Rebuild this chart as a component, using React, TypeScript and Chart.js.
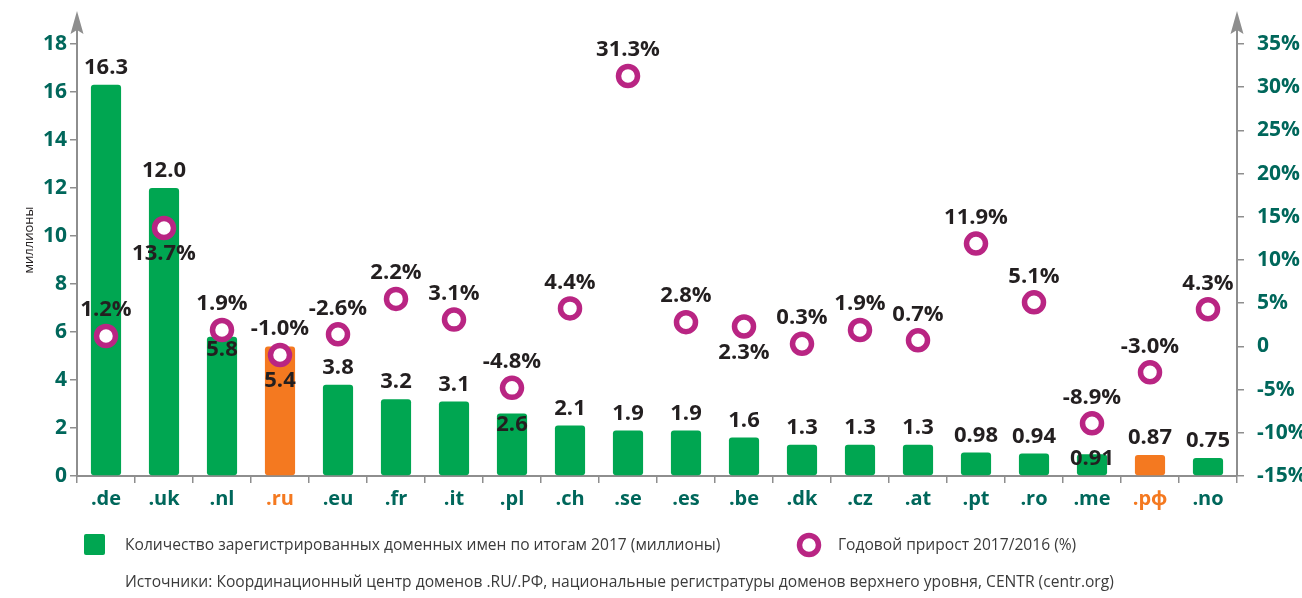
import React, { useEffect, useRef } from 'react';
import { Chart, registerables } from 'chart.js';

Chart.register(...registerables);

// ---- data ----
const domains = ['.de', '.uk', '.nl', '.ru', '.eu', '.fr', '.it', '.pl', '.ch', '.se', '.es', '.be', '.dk', '.cz', '.at', '.pt', '.ro', '.me', '.рф', '.no'];
const domainCounts = [16.3, 12.0, 5.8, 5.4, 3.8, 3.2, 3.1, 2.6, 2.1, 1.9, 1.9, 1.6, 1.3, 1.3, 1.3, 0.98, 0.94, 0.91, 0.87, 0.75];
const countLabels = ['16.3', '12.0', '5.8', '5.4', '3.8', '3.2', '3.1', '2.6', '2.1', '1.9', '1.9', '1.6', '1.3', '1.3', '1.3', '0.98', '0.94', '0.91', '0.87', '0.75'];
// growth markers as plotted in the picture (%)
const growthPct = [1.2, 13.7, 1.9, -1.0, 1.4, 5.5, 3.1, -4.8, 4.4, 31.3, 2.8, 2.3, 0.3, 1.9, 0.7, 11.9, 5.1, -8.9, -3.0, 4.3];
const growthLabels = ['1.2%', '13.7%', '1.9%', '-1.0%', '-2.6%', '2.2%', '3.1%', '-4.8%', '4.4%', '31.3%', '2.8%', '2.3%', '0.3%', '1.9%', '0.7%', '11.9%', '5.1%', '-8.9%', '-3.0%', '4.3%'];
const highlighted = ['.ru', '.рф'];
const countTicks = [0, 2, 4, 6, 8, 10, 12, 14, 16, 18];
const pctTicks = [-15, -10, -5, 0, 5, 10, 15, 20, 25, 30, 35];

// ---- label styling (not data) ----
const barLabelInside: Record<string, number> = { '.nl': 13, '.ru': 34, '.pl': 11, '.me': 5 };
const pctLabelBelow = ['.uk', '.be'];

const GREEN = '#00a651';
const ORANGE = '#f47920';
const MAGENTA = '#b92583';
const TEAL = '#00675b';
const AXIS = '#8e8e8e';
const LABEL = '#231f20';
const FONT = '"Open Sans", "DejaVu Sans", sans-serif';

const legendCountText = 'Количество зарегистрированных доменных имен по итогам 2017 (миллионы)';
const legendGrowthText = 'Годовой прирост 2017/2016 (%)';
const sourceText = 'Источники: Координационный центр доменов .RU/.РФ, национальные регистратуры доменов верхнего уровня, CENTR (centr.org)';
const yTitle = 'миллионы';

const decorPlugin = {
  id: 'decor',
  afterDatasetsDraw(chart: any) {
    const ctx = chart.ctx as CanvasRenderingContext2D;
    const barMeta = chart.getDatasetMeta(1);
    const ptMeta = chart.getDatasetMeta(0);
    ctx.save();
    ctx.fillStyle = LABEL;
    ctx.textAlign = 'center';
    ctx.textBaseline = 'middle';
    ctx.font = `bold 22px ${FONT}`;
    barMeta.data.forEach((bar: any, i: number) => {
      const d = domains[i];
      const dy = d in barLabelInside ? barLabelInside[d] : -17;
      ctx.fillText(countLabels[i], bar.x, bar.y + dy);
    });
    ptMeta.data.forEach((pt: any, i: number) => {
      const d = domains[i];
      const dy = pctLabelBelow.includes(d) ? 26 : -26;
      ctx.fillText(growthLabels[i], pt.x, pt.y + dy);
    });
    ctx.restore();
  },
  afterDraw(chart: any) {
    const ctx = chart.ctx as CanvasRenderingContext2D;
    const a = chart.chartArea;
    ctx.save();
    // axis arrows
    ctx.strokeStyle = AXIS;
    ctx.fillStyle = AXIS;
    ctx.lineWidth = 2;
    [a.left, a.right].forEach((x: number) => {
      ctx.beginPath();
      ctx.moveTo(x, a.top + 1);
      ctx.lineTo(x, 30);
      ctx.stroke();
      ctx.beginPath();
      ctx.moveTo(x, 11);
      ctx.lineTo(x - 6.5, 34);
      ctx.lineTo(x, 30);
      ctx.lineTo(x + 6.5, 34);
      ctx.closePath();
      ctx.fill();
    });
    // y title
    ctx.save();
    ctx.translate(29, 240);
    ctx.rotate(-Math.PI / 2);
    ctx.fillStyle = LABEL;
    ctx.font = `13px ${FONT}`;
    ctx.textAlign = 'center';
    ctx.textBaseline = 'middle';
    ctx.fillText(yTitle, 0, 0);
    ctx.restore();
    // legend
    ctx.fillStyle = GREEN;
    ctx.beginPath();
    (ctx as any).roundRect(84, 534, 21, 21, 2);
    ctx.fill();
    ctx.strokeStyle = MAGENTA;
    ctx.lineWidth = 5.5;
    ctx.beginPath();
    ctx.arc(809, 545, 9.5, 0, Math.PI * 2);
    ctx.stroke();
    ctx.fillStyle = '#3b3b3b';
    ctx.font = `15.6px ${FONT}`;
    ctx.textAlign = 'left';
    ctx.textBaseline = 'middle';
    ctx.fillText(legendCountText, 125, 546);
    ctx.fillText(legendGrowthText, 838, 546);
    ctx.fillText(sourceText, 125, 583);
    ctx.restore();
  },
};

export default function App() {
  const ref = useRef<HTMLCanvasElement>(null);
  useEffect(() => {
    const canvas = ref.current!;
    const chart = new Chart(canvas, {
      type: 'bar',
      data: {
        labels: domains,
        datasets: [
          {
            type: 'line',
            label: legendGrowthText,
            data: growthPct,
            yAxisID: 'yPct',
            showLine: false,
            pointStyle: 'circle',
            pointRadius: 9.5,
            pointBorderWidth: 5.5,
            pointBorderColor: MAGENTA,
            pointBackgroundColor: '#ffffff',
            order: 0,
          } as any,
          {
            type: 'bar',
            label: legendCountText,
            data: domainCounts,
            yAxisID: 'yCount',
            backgroundColor: domains.map((d) => (highlighted.includes(d) ? ORANGE : GREEN)),
            borderRadius: 3,
            borderSkipped: false,
            barPercentage: 0.52,
            categoryPercentage: 1,
            order: 1,
          } as any,
        ],
      },
      options: {
        responsive: false,
        animation: false,
        devicePixelRatio: 1,
        layout: { padding: { top: 44, bottom: 82, left: 0, right: 0 } },
        plugins: { legend: { display: false }, tooltip: { enabled: false } },
        scales: {
          x: {
            offset: true,
            grid: { display: true, drawOnChartArea: false, drawTicks: true, tickLength: 7, color: AXIS, lineWidth: 1.5, offset: true },
            border: { display: true, color: AXIS, width: 2 },
            ticks: {
              font: { family: FONT, size: 20, weight: 'bold' },
              color: (c: any) => (highlighted.includes(domains[c.index]) ? ORANGE : TEAL),
              padding: 4,
              maxRotation: 0,
              autoSkip: false,
            },
            afterFit: (s: any) => { s.height = 40; },
          },
          yCount: {
            type: 'linear',
            position: 'left',
            min: 0,
            max: 18,
            afterBuildTicks: (s: any) => { s.ticks = countTicks.map((v) => ({ value: v })); },
            grid: { drawOnChartArea: false, drawTicks: true, tickLength: 7, color: AXIS, lineWidth: 1.5 },
            border: { display: true, color: AXIS, width: 2 },
            ticks: { font: { family: FONT, size: 21, weight: 'bold' }, color: TEAL, padding: 3 },
            afterFit: (s: any) => { s.width = 77; },
          },
          yPct: {
            type: 'linear',
            position: 'right',
            min: -15,
            max: 35,
            afterBuildTicks: (s: any) => { s.ticks = pctTicks.map((v) => ({ value: v })); },
            grid: { drawOnChartArea: false, drawTicks: true, tickLength: 7, color: AXIS, lineWidth: 1.5 },
            border: { display: true, color: AXIS, width: 2 },
            ticks: {
              font: { family: FONT, size: 21, weight: 'bold' },
              color: TEAL,
              padding: 13,
              callback: (v: any) => (v === 0 ? '0' : `${v}%`),
            },
            afterFit: (s: any) => { s.width = 65; },
          },
        },
      } as any,
      plugins: [decorPlugin],
    });
    return () => chart.destroy();
  }, []);
  return (
    <div style={{ position: 'absolute', left: 0, top: 0, width: 1302, height: 598, background: '#fff' }}>
      <canvas ref={ref} width={1302} height={598} style={{ display: 'block' }} />
    </div>
  );
}
